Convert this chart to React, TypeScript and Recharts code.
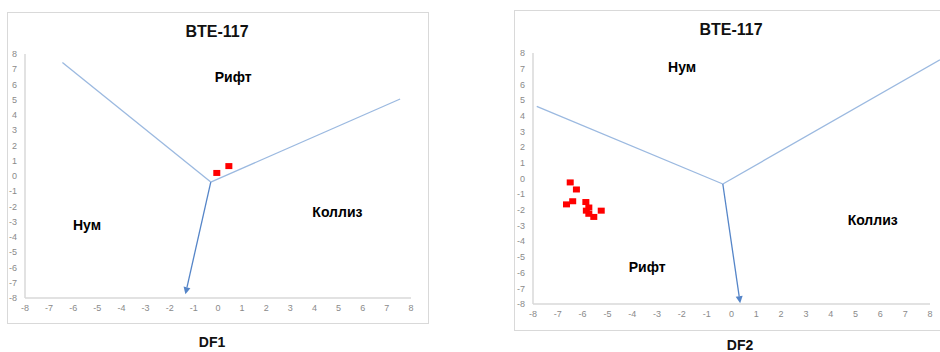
import React from 'react';
import { ScatterChart, Scatter, XAxis, YAxis, ReferenceLine, ReferenceDot } from 'recharts';

const FONT = '"Liberation Sans", Arial, sans-serif';

const axisTicks = [-8, -7, -6, -5, -4, -3, -2, -1, 0, 1, 2, 3, 4, 5, 6, 7, 8];

const chartTitle = 'BTE-117';

// DF1 chart
const df1Points = [
  { x: -0.05, y: 0.2 },
  { x: 0.45, y: 0.65 },
];
const df1Center = { x: -0.3, y: -0.4 };
const df1LineEnds = [
  { x: -6.45, y: 7.45 },
  { x: 7.55, y: 5.05 },
];
const df1ArrowEnd = { x: -1.35, y: -7.75 };
const df1Labels = [
  { name: 'Рифт', x: 0.63, y: 6.5 },
  { name: 'Нум', x: -5.43, y: -3.2 },
  { name: 'Коллиз', x: 4.95, y: -2.36 },
];

// DF2 chart
const df2Points = [
  { x: -6.5, y: -0.25 },
  { x: -6.25, y: -0.7 },
  { x: -6.4, y: -1.45 },
  { x: -6.65, y: -1.65 },
  { x: -5.87, y: -1.5 },
  { x: -5.75, y: -1.85 },
  { x: -5.85, y: -2.05 },
  { x: -5.75, y: -2.25 },
  { x: -5.55, y: -2.45 },
  { x: -5.25, y: -2.05 },
];
const df2Center = { x: -0.35, y: -0.35 };
const df2LineEnds = [
  { x: -7.85, y: 4.6 },
  { x: 8.4, y: 7.57 },
];
const df2ArrowEnd = { x: 0.35, y: -7.95 };
const df2Labels = [
  { name: 'Нум', x: -1.99, y: 7.08 },
  { name: 'Коллиз', x: 5.69, y: -2.64 },
  { name: 'Рифт', x: -3.4, y: -5.66 },
];

const BOUNDARY = '#9bb9e0';
const ARROW = '#5585c8';
const AXIS = '#d9d9d9';

const Square = (p: any) => (
  <rect x={p.cx - 3.5} y={p.cy - 3} width={7} height={6} fill="#ff0000" />
);

const ArrowShape = (p: any) => {
  const { x1, y1, x2, y2 } = p;
  const ang = Math.atan2(y2 - y1, x2 - x1);
  const len = 7;
  const half = 3.5;
  const bx = x2 - len * Math.cos(ang);
  const by = y2 - len * Math.sin(ang);
  const px = -Math.sin(ang) * half;
  const py = Math.cos(ang) * half;
  return (
    <g>
      <line x1={x1} y1={y1} x2={bx} y2={by} stroke={ARROW} strokeWidth={1.3} />
      <polygon points={`${x2},${y2} ${bx + px},${by + py} ${bx - px},${by - py}`} fill={ARROW} />
    </g>
  );
};

type Pt = { x: number; y: number };

function Diagram(props: {
  width: number;
  height: number;
  margin: { top: number; right: number; left: number; bottom: number };
  yWidth: number;
  xHeight: number;
  points: Pt[];
  center: Pt;
  ends: Pt[];
  arrowEnd: Pt;
  labels: { name: string; x: number; y: number }[];
}) {
  const { width, height, margin, yWidth, xHeight, points, center, ends, arrowEnd, labels } = props;
  return (
    <ScatterChart width={width} height={height} margin={margin}>
      <XAxis
        type="number"
        dataKey="x"
        domain={[-8, 8]}
        ticks={axisTicks}
        interval={0}
        height={xHeight}
        tickSize={0}
        tickLine={false}
        tickMargin={7}
        axisLine={{ stroke: AXIS, strokeWidth: 1.5 }}
        tick={{ fontSize: 9, fill: '#8a8a8a', fontFamily: FONT }}
        allowDataOverflow
      />
      <YAxis
        type="number"
        dataKey="y"
        domain={[-8, 8]}
        ticks={axisTicks}
        interval={0}
        width={yWidth}
        tickSize={0}
        tickLine={false}
        tickMargin={8}
        axisLine={{ stroke: AXIS, strokeWidth: 1.5 }}
        tick={{ fontSize: 9, fill: '#8a8a8a', fontFamily: FONT }}
        allowDataOverflow
      />
      {ends.map((e, i) => (
        <ReferenceLine
          key={'b' + i}
          segment={[center, e]}
          ifOverflow="visible"
          stroke={BOUNDARY}
          strokeWidth={1.3}
        />
      ))}
      <ReferenceLine segment={[center, arrowEnd]} ifOverflow="visible" shape={ArrowShape} />
      {labels.map((l) => (
        <ReferenceDot
          key={l.name}
          x={l.x}
          y={l.y}
          r={0}
          fill="none"
          stroke="none"
          ifOverflow="visible"
          label={{
            value: l.name,
            position: 'center',
            fontSize: 14,
            fontWeight: 700,
            fill: '#000',
            fontFamily: FONT,
          }}
        />
      ))}
      <Scatter data={points} shape={Square} isAnimationActive={false} />
    </ScatterChart>
  );
}

const textStyle = (left: number, top: number, size: number): React.CSSProperties => ({
  position: 'absolute',
  left: left - 60,
  width: 120,
  top,
  textAlign: 'center',
  fontSize: size,
  lineHeight: size + 'px',
  fontWeight: 700,
  color: '#111',
  fontFamily: FONT,
  whiteSpace: 'nowrap',
});

export default function App() {
  return (
    <div
      style={{
        position: 'absolute',
        left: 0,
        top: 0,
        width: 940,
        height: 352,
        overflow: 'hidden',
        background: '#fff',
        fontFamily: FONT,
      }}
    >
      {/* left frame */}
      <div
        style={{
          position: 'absolute',
          left: 7,
          top: 12,
          width: 422,
          height: 312,
          border: '1px solid #d9d9d9',
          boxSizing: 'border-box',
        }}
      />
      {/* right frame */}
      <div
        style={{
          position: 'absolute',
          left: 514,
          top: 10,
          width: 440,
          height: 321,
          border: '1px solid #d9d9d9',
          boxSizing: 'border-box',
        }}
      />
      <div style={{ position: 'absolute', left: 7, top: 12 }}>
        <Diagram
          width={422}
          height={312}
          margin={{ top: 42, right: 18, left: 0, bottom: 0 }}
          yWidth={18}
          xHeight={26}
          points={df1Points}
          center={df1Center}
          ends={df1LineEnds}
          arrowEnd={df1ArrowEnd}
          labels={df1Labels}
        />
      </div>
      <div style={{ position: 'absolute', left: 514, top: 10 }}>
        <Diagram
          width={440}
          height={321}
          margin={{ top: 43, right: 24, left: 0, bottom: 0 }}
          yWidth={19}
          xHeight={27}
          points={df2Points}
          center={df2Center}
          ends={df2LineEnds}
          arrowEnd={df2ArrowEnd}
          labels={df2Labels}
        />
      </div>
      <div style={textStyle(217, 24, 16)}>{chartTitle}</div>
      <div style={textStyle(731, 22, 16)}>{chartTitle}</div>
      <div style={textStyle(212, 335, 14)}>DF1</div>
      <div style={textStyle(740, 338, 14)}>DF2</div>
    </div>
  );
}
